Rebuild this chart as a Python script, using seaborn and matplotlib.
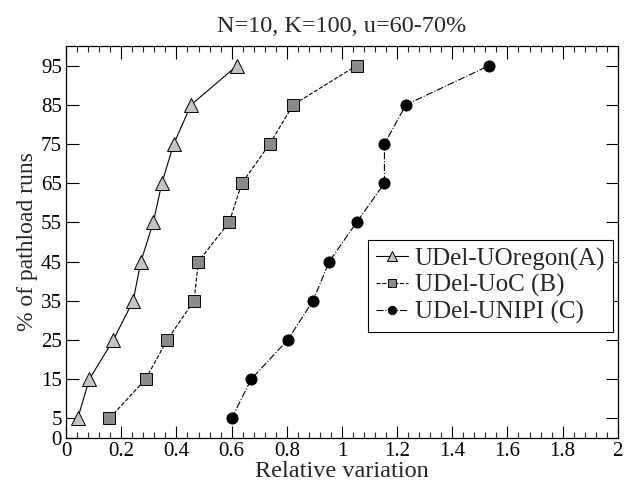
import numpy as np
import pandas as pd
import seaborn as sns
import matplotlib
matplotlib.use("Agg")
import matplotlib.pyplot as plt
from matplotlib.ticker import MultipleLocator, FixedLocator, FuncFormatter

sns.set_theme(style="ticks")
plt.rcParams["font.family"] = "serif"
plt.rcParams["font.serif"] = ["Liberation Serif", "DejaVu Serif"]

#
# DATA
#

percent = [5, 15, 25, 35, 45, 55, 65, 75, 85, 95]
oregon = [0.042, 0.084, 0.171, 0.243, 0.271, 0.316, 0.347, 0.390, 0.453, 0.620]
uoc = [0.157, 0.288, 0.366, 0.464, 0.479, 0.591, 0.637, 0.738, 0.823, 1.053]
unipi = [0.600, 0.671, 0.803, 0.895, 0.954, 1.053, 1.154, 1.154, 1.232, 1.534]

names = ["UDel-UOregon(A)", "UDel-UoC (B)", "UDel-UNIPI (C)"]
yticks = [0, 5, 15, 25, 35, 45, 55, 65, 75, 85, 95]

df = pd.DataFrame({
    "variation": oregon + uoc + unipi,
    "percent": percent * 3,
    "path": np.repeat(names, len(percent)),
})

styles = {
    names[0]: dict(marker="^", linestyle="-", mfc="#c4c4c4", ms=10),
    names[1]: dict(marker="s", linestyle="--", mfc="#8a8a8a", ms=8),
    names[2]: dict(marker="o", linestyle="-.", mfc="black", ms=8),
}

#
# PLOT
#

fig = plt.figure(figsize=(6.24, 4.84), dpi=100)
ax = fig.add_axes([0.106, 0.095, 0.884, 0.810])

for name in names:
    sub = df[df["path"] == name]
    st = styles[name]
    sns.lineplot(x="variation", y="percent", data=sub, ax=ax,
                 estimator=None, sort=False, color="black", linewidth=0.8,
                 linestyle=st["linestyle"], marker=st["marker"],
                 markersize=st["ms"], markerfacecolor=st["mfc"],
                 markeredgecolor="black", markeredgewidth=0.7, label=name)

ax.set_xlim(0, 2)
ax.set_ylim(0, 100)
ax.xaxis.set_major_locator(MultipleLocator(0.2))
ax.xaxis.set_minor_locator(MultipleLocator(0.04))
ax.xaxis.set_major_formatter(FuncFormatter(lambda v, p: "{:g}".format(round(v, 2))))
ax.yaxis.set_major_locator(FixedLocator(yticks))
ax.tick_params(which="major", direction="in", length=9, width=0.8,
               top=True, right=True, labelsize=15, colors="black", pad=3)
ax.tick_params(which="minor", direction="in", length=4, width=0.8,
               top=True, right=False)
for sp in ax.spines.values():
    sp.set_color("black")
    sp.set_linewidth(0.9)

ax.set_xlabel("Relative variation", fontsize=17.5, va="top")
ax.xaxis.set_label_coords(0.5, -0.058)
ax.set_ylabel("% of pathload runs", fontsize=17, labelpad=2)
ax.set_title("N=10, K=100, u=60-70%", fontsize=17.5, pad=10)

leg = ax.legend(loc="upper left", bbox_to_anchor=(0.548, 0.505),
                fontsize=18, frameon=True, fancybox=False, framealpha=1,
                edgecolor="black", handlelength=1.3, handletextpad=0.25,
                borderpad=0.3, labelspacing=0.15, markerscale=0.75,
                borderaxespad=0)
leg.get_frame().set_linewidth(0.8)

fig.savefig("out.png", dpi=100)
